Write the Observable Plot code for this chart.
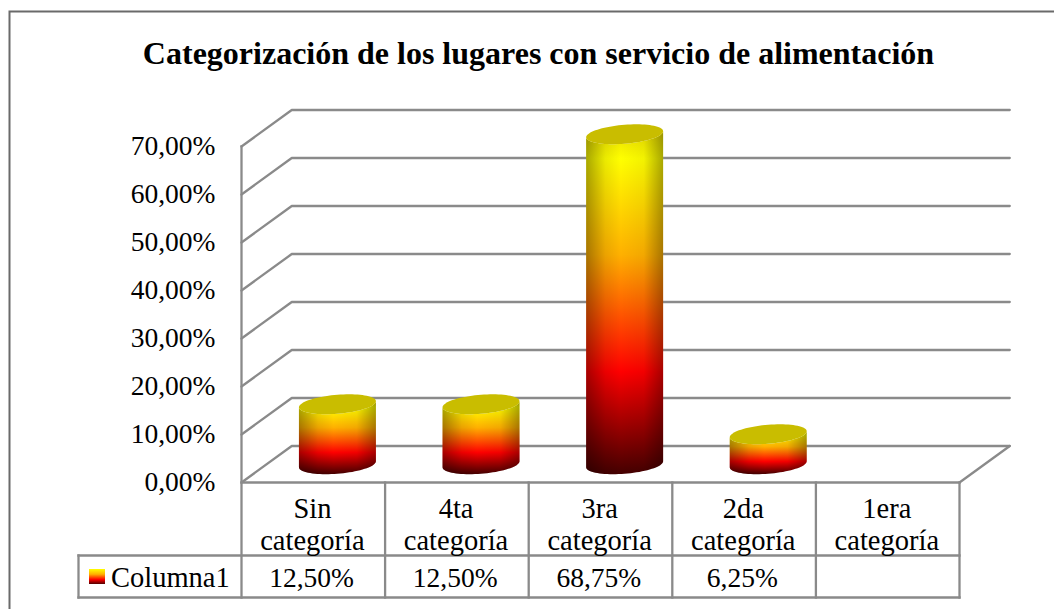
<!DOCTYPE html>
<html lang="es">
<head>
<meta charset="utf-8">
<style>
html,body{margin:0;padding:0;background:#fff;overflow:hidden}
svg{display:block}
</style>
<script src="https://cdn.jsdelivr.net/npm/d3@7"></script>
<script src="https://cdn.jsdelivr.net/npm/@observablehq/plot@0.6"></script>
</head>
<body>
<div id="chart"></div>
<script>
const title = "Categorización de los lugares con servicio de alimentación";
const categories = ["Sin\ncategoría", "4ta\ncategoría", "3ra\ncategoría", "2da\ncategoría", "1era\ncategoría"];
const values = [12.5, 12.5, 68.75, 6.25, null];
const yTicks = [0, 10, 20, 30, 40, 50, 60, 70];
const seriesName = "Columna1";

// Layout of the oblique 3D projection, in scale units
const depthX = 0.35, depthY = 7.6;       // offset of the back wall
const GRAY = "#8a8a8a";
const pct = v => v.toFixed(2).replace(".", ",") + "%";
// chart furniture placed via the same scales
const X = px => (px - 241) / 143.6;
const Y = py => (482 - py) / 4.8;

// Cylinder outlines
const halfW = 0.268, tilt = 0.625, ry = 1.98;
const steps = d3.range(0, 41).map(i => i / 40 * Math.PI);
const cylX = i => i + 0.5 + 0.168;
const arc = (i, v, t) => ({
  cat: categories[i],
  x: cylX(i) + halfW * Math.cos(t),
  y: v + depthY / 2 + tilt * Math.cos(t) - ry * Math.sin(t)
});
const bars = values.map((v, i) => ({v, i})).filter(d => d.v != null);
const bodies = bars.flatMap(({v, i}) => [
  ...steps.map(t => arc(i, 0, t)),
  ...steps.slice().reverse().map(t => arc(i, v, t))
]);
const caps = bars.flatMap(({v, i}) => [
  ...steps.map(t => arc(i, v, t)),
  ...steps.map(t => arc(i, v, -t)).reverse()
]);

// Grid: side wall + back wall
const grid = yTicks.flatMap(t => [
  {t, x: 0, y: t},
  {t, x: depthX, y: t + depthY},
  {t, x: 5 + depthX, y: t + depthY}
]);
const floorRight = [{x: 5, y: 0}, {x: 5 + depthX, y: depthY}];

const line = (x1, y1, x2, y2, sw = 2.3, stroke = GRAY) =>
  Plot.line([{x: x1, y: y1}, {x: x2, y: y2}], {x: "x", y: "y", stroke, strokeWidth: sw, strokeLinecap: "square"});

const font = "Liberation Serif, Times New Roman, serif";
const numSize = 27.5, wordSize = 28.5;

const plot = Plot.plot({
  width: 1054, height: 609,
  marginLeft: 241, marginRight: 95, marginTop: 146, marginBottom: 127,
  style: {background: "transparent", fontFamily: font, overflow: "hidden"},
  x: {type: "linear", domain: [0, 5], axis: null},
  y: {type: "linear", domain: [0, 70], axis: null},
  marks: [
    // outer border
    Plot.rect([0], {x1: X(9.5), x2: X(1070), y1: Y(11.5), y2: Y(640), fill: "none", stroke: "#6a6a6a", strokeWidth: 2}),
    // walls
    Plot.line(grid, {x: "x", y: "y", z: "t", stroke: GRAY, strokeWidth: 2.3}),
    Plot.line(floorRight, {x: "x", y: "y", stroke: GRAY, strokeWidth: 2.3}),
    Plot.axisY({
      ticks: yTicks, tickFormat: pct, tickSize: 0, tickPadding: 26,
      label: null, fontSize: numSize, fill: "#000", fontFamily: font
    }),
    // table
    line(0, 70, 0, Y(597)),
    line(0, 0, 5, 0),
    line(X(78), Y(555), 5, Y(555)),
    line(X(78), Y(597), 5, Y(597)),
    line(X(78), Y(555), X(78), Y(597)),
    ...d3.range(1, 6).map(i => line(i, 0, i, Y(597))),
    // cylinders
    Plot.line(bodies, {x: "x", y: "y", z: "cat", fill: "url(#body)", stroke: "none"}),
    Plot.line(bodies, {x: "x", y: "y", z: "cat", fill: "url(#shade)", stroke: "none"}),
    Plot.line(caps, {x: "x", y: "y", z: "cat", fill: "#c9bd00", stroke: "none"}),
    // category labels
    Plot.text(categories, {
      x: (d, i) => i + 0.5 - 0.006, y: Y(523),
      text: d => d, lineHeight: 1.12, lineAnchor: "middle",
      fontSize: wordSize, fill: "#000", fontFamily: font, textAnchor: "middle"
    }),
    // values row
    Plot.text(values, {
      x: (d, i) => i + 0.5 - 0.012, y: Y(578),
      text: d => d == null ? "" : pct(d),
      fontSize: numSize, fill: "#000", fontFamily: font
    }),
    // legend key
    Plot.rect([0], {x1: X(89), x2: X(105), y1: Y(569), y2: Y(584), fill: "url(#key)"}),
    Plot.text([seriesName], {
      x: X(110.5), y: Y(577), text: d => d, textAnchor: "start",
      fontSize: wordSize, fill: "#000", fontFamily: font
    }),
    // title
    Plot.text([title], {
      x: X(538), y: Y(53), text: d => d,
      fontSize: 32, fontWeight: "bold", fill: "#000", fontFamily: font
    })
  ]
});

// Gradients used by the cylinders
const defs = d3.select(plot).insert("defs", ":first-child");
const grad = (id, x2, y2, stops) => {
  const g = defs.append("linearGradient").attr("id", id)
    .attr("x1", 0).attr("y1", 0).attr("x2", x2).attr("y2", y2);
  stops.forEach(([o, c, a]) => g.append("stop").attr("offset", o).attr("stop-color", c).attr("stop-opacity", a == null ? 1 : a));
};
grad("body", 0, 1, [
  [0, "#e8dc00"], [0.08, "#ffff00"], [0.36, "#ffb000"], [0.7, "#ff0000"], [1, "#440000"]
]);
grad("shade", 1, 0, [
  [0, "#000", 0.34], [0.25, "#000", 0.08], [0.45, "#000", 0], [0.75, "#000", 0.05], [1, "#000", 0.34]
]);
grad("key", 0, 1, [
  [0, "#ffff00"], [0.35, "#ffb000"], [0.7, "#ff0000"], [1, "#500000"]
]);
document.getElementById("chart").append(plot);
</script>
</body>
</html>
